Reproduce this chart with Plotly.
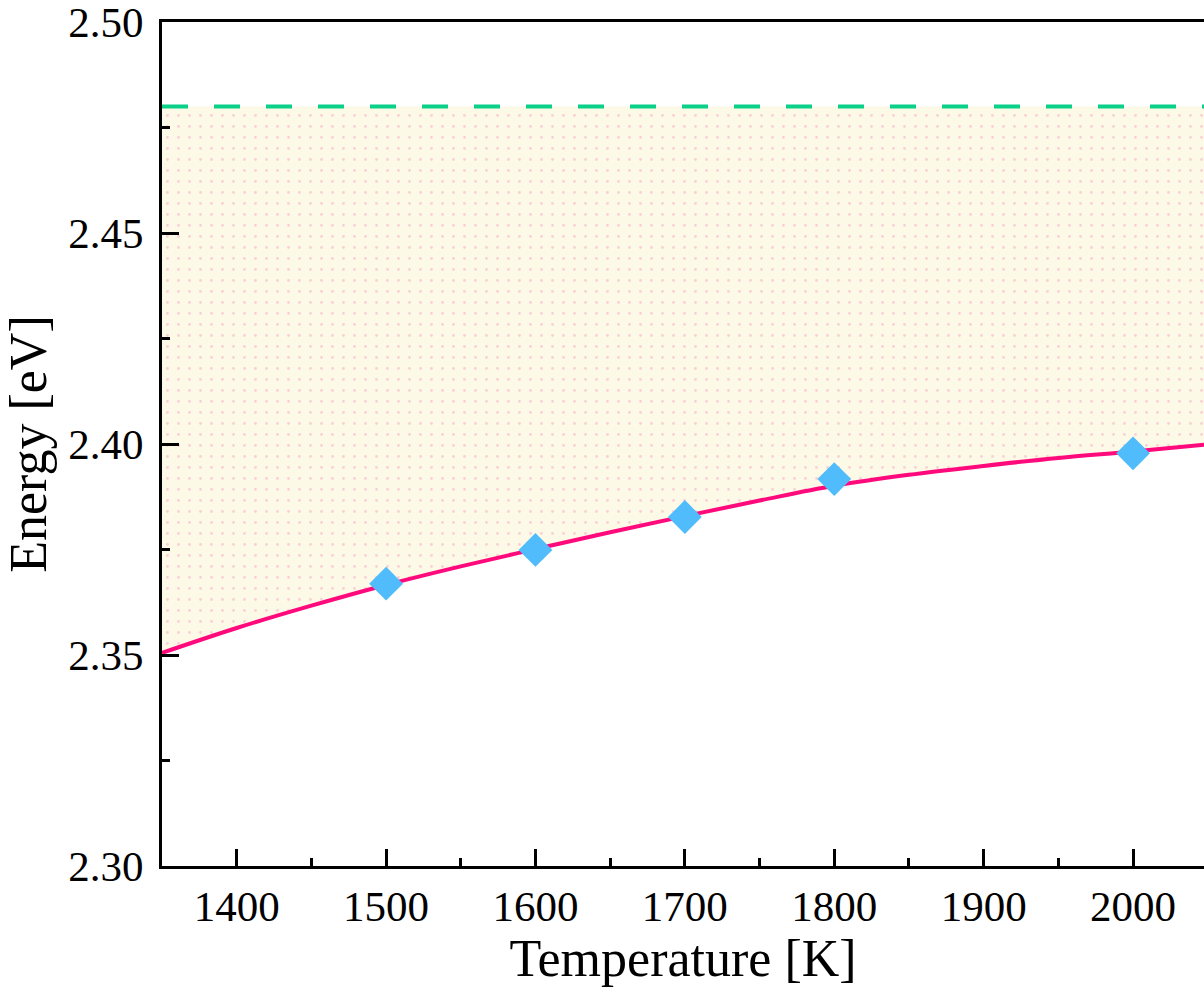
import plotly.graph_objects as go

# Data
temp_points = [1500, 1600, 1700, 1800, 2000]
energy_points = [2.3669, 2.3749, 2.3827, 2.3917, 2.3978]

curve_temp = [1350, 1400, 1450, 1500, 1550, 1600, 1650, 1700, 1750, 1800, 1850, 1900, 1950, 2000, 2047.5]
curve_energy = [2.3505, 2.3564, 2.3617, 2.3666, 2.3710, 2.3751, 2.3791, 2.3829, 2.3866, 2.3901, 2.3927, 2.3948, 2.3967, 2.3982, 2.3998]

limit_temp = [1350, 2047.5]
limit_energy = [2.48, 2.48]

y_ticks = [2.30, 2.35, 2.40, 2.45, 2.50]
x_ticks = [1400, 1500, 1600, 1700, 1800, 1900, 2000]

FONT = "Liberation Serif"

fig = go.Figure()

# invisible boundary for fill
fig.add_trace(go.Scatter(x=limit_temp, y=limit_energy, mode="lines",
                         line=dict(width=0, color="rgba(0,0,0,0)"),
                         showlegend=False, hoverinfo="skip"))
# curve with patterned fill up to the limit line
fig.add_trace(go.Scatter(x=curve_temp, y=curve_energy, mode="lines",
                         line=dict(color="#ff0a7c", width=4, shape="spline"),
                         fill="tonexty", fillcolor="#fcfae6",
                         fillpattern=dict(shape=".", fgcolor="#f5a3c6", bgcolor="#fcfae6",
                                          size=11, solidity=0.05),
                         showlegend=False))
# dashed limit line
fig.add_trace(go.Scatter(x=limit_temp, y=limit_energy, mode="lines",
                         line=dict(color="#0bd08a", width=4, dash="26px,26px"),
                         showlegend=False))
# data points
fig.add_trace(go.Scatter(x=temp_points, y=energy_points, mode="markers",
                         marker=dict(symbol="diamond", size=26, color="#50bcfc",
                                     line=dict(width=0)),
                         showlegend=False))

fig.update_layout(
    width=1204, height=991,
    margin=dict(l=162, r=0, t=22, b=125),
    plot_bgcolor="white", paper_bgcolor="white",
    font=dict(family=FONT, size=43, color="black"),
)

fig.update_xaxes(
    range=[1350, 2047.5], tickvals=x_ticks, ticktext=[str(v) for v in x_ticks],
    ticks="inside", ticklen=17, tickwidth=3, tickcolor="black",
    minor=dict(ticks="inside", ticklen=8, tickwidth=3, tickcolor="black", dtick=50, tick0=1350),
    showline=True, linewidth=3, linecolor="black", mirror=True,
    showgrid=False, zeroline=False,
    tickfont=dict(family=FONT, size=43),
    ticklabelstandoff=0, ticklabeloverflow="allow",
    title=dict(text="Temperature [K]", font=dict(family=FONT, size=52), standoff=10),
)
fig.update_yaxes(
    range=[2.30, 2.50], tickvals=y_ticks, ticktext=[f"{v:.2f}" for v in y_ticks],
    ticks="inside", ticklen=17, tickwidth=3, tickcolor="black",
    minor=dict(ticks="inside", ticklen=8, tickwidth=3, tickcolor="black", dtick=0.025, tick0=2.30),
    showline=True, linewidth=3, linecolor="black", mirror=False,
    showgrid=False, zeroline=False,
    tickfont=dict(family=FONT, size=43),
    ticklabelstandoff=7, ticklabeloverflow="allow",
    title=dict(text="Energy [eV]", font=dict(family=FONT, size=52), standoff=12),
)

fig.write_html("out.html")
